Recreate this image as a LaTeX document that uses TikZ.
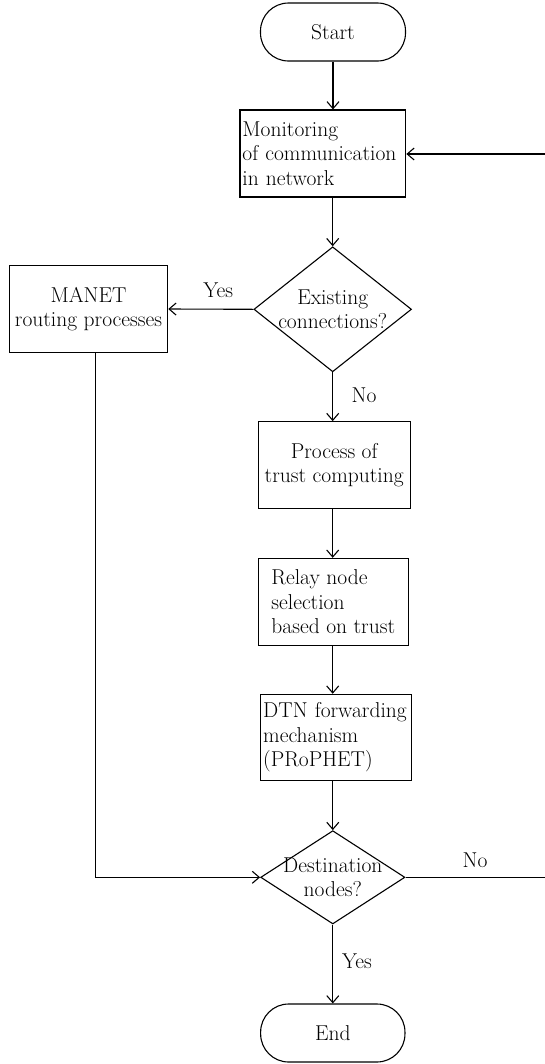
\documentclass[tikz,border=0pt]{standalone}
\usetikzlibrary{shapes.geometric,arrows.meta}

\tikzset{
  txt/.style={font=\fontsize{21.5bp}{24.5bp}\selectfont},
  outline/.style={draw, line width=1.1bp, txt},
  terminal/.style={outline, rectangle, rounded corners=28bp, inner sep=0pt},
  flowbox/.style={outline, rectangle, inner sep=0pt},
  decision/.style={outline, diamond, inner sep=0pt},
  flow/.style={line width=1.1bp, -{Straight Barb[length=7bp,width=12bp]}},
  wire/.style={line width=1.1bp},
  lbl/.style={txt, inner sep=0pt}
}

\begin{document}
\begin{tikzpicture}[x=1bp,y=-1bp]
  \useasboundingbox (0,0) rectangle (545,1064);

  % main column
  \node[terminal, minimum width=145bp, minimum height=58bp] (start) at (333,32) {Start};
  \node[flowbox, align=left, text width=161bp, inner xsep=2.4bp, minimum height=87bp] (mon) at (322.9,153.5)
    {Monitoring\\of communication\\in network};
  \node[decision, minimum width=157.6bp, minimum height=125bp,
        label={[lbl, align=center]center:Existing\\connections?}] (dec1) at (332.7,309.3) {};
  \node[flowbox, align=center, minimum width=158.4bp, minimum height=86.6bp] (manet) at (88.5,309)
    {MANET\\routing processes};
  \node[flowbox, align=center, minimum width=151.7bp, minimum height=86.6bp] (trust) at (334.2,465)
    {Process of\\trust computing};
  \node[flowbox, align=left, minimum width=150bp, minimum height=86.7bp] (relay) at (333.3,601.7)
    {Relay node\\selection\\based on trust};
  \node[flowbox, align=left, text width=146bp, inner xsep=2.5bp, minimum height=86.4bp] (dtn) at (336.2,737.5)
    {DTN forwarding\\mechanism\\(PRoPHET)};
  \node[decision, minimum width=144.3bp, minimum height=93.3bp,
        label={[lbl, align=center]center:Destination\\nodes?}] (dec2) at (332.8,877.3) {};
  \node[terminal, minimum width=144.3bp, minimum height=58bp] (end) at (332.8,1033) {End};

  % loose ends of the loop back to monitoring
  \coordinate (loopin) at (545,154);
  \coordinate (loopout) at (545,877.3);

  % connectors
  \draw[flow] (start.south) -- (start.south |- mon.north);
  \draw[flow] (loopin) -- (loopin -| mon.east);
  \draw[flow] (dec1 |- mon.south) -- (dec1.north);
  \draw[flow] (dec1.west) -- (manet.east);
  \draw[flow] (dec1.south) -- (dec1.south |- trust.north);
  \draw[flow] (dec1 |- trust.south) -- (dec1 |- relay.north);
  \draw[flow] (dec1 |- relay.south) -- (dec1 |- dtn.north);
  \draw[flow] (dec2 |- dtn.south) -- (dec2.north);
  \draw[flow] ([xshift=7bp]manet.south) |- (dec2.west);
  \draw[wire] (dec2.east) -- (loopout);
  \draw[flow] (dec2.south) -- (end.north);

  % branch labels
  \node[lbl] (yes1) at (218.3,290.7) {Yes};
  \node[lbl] (no1) at (364,395) {No};
  \node[lbl] (no2) at (475,860.7) {No};
  \node[lbl] (yes2) at (357,961) {Yes};
\end{tikzpicture}
\end{document}
